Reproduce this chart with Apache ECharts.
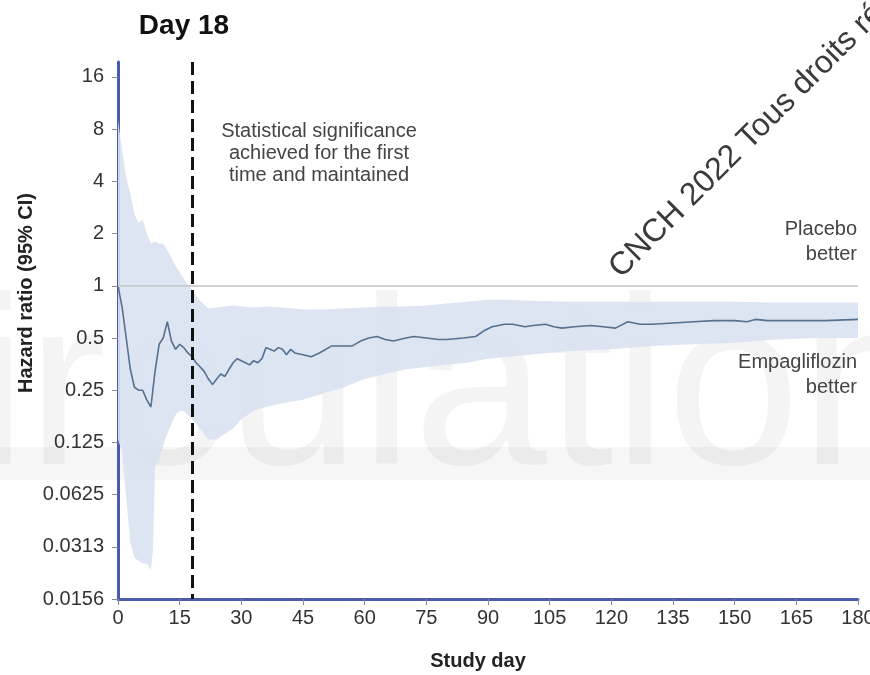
<!DOCTYPE html>
<html>
<head>
<meta charset="utf-8">
<script src="https://cdn.jsdelivr.net/npm/echarts@6/dist/echarts.min.js"></script>
<style>
  html, body { margin: 0; padding: 0; background: #ffffff; }
  #chart { width: 870px; height: 675px; }
</style>
</head>
<body>
<div id="chart"></div>
<script>
// Study day ticks (x axis)
const xTicks = [0, 15, 30, 45, 60, 75, 90, 105, 120, 135, 150, 165, 180];

// Hazard ratio ticks (log2 y axis) and their printed labels
const yTickValues = [0.015625, 0.03125, 0.0625, 0.125, 0.25, 0.5, 1, 2, 4, 8, 16];
const yTickLabels = ['0.0156', '0.0313', '0.0625', '0.125', '0.25', '0.5', '1', '2', '4', '8', '16'];

// Cumulative hazard ratio estimate by study day
const hrDays = [0, 1, 2, 3, 4, 5, 6, 7, 8, 9, 10, 11, 12, 13, 14, 15, 16, 17, 18, 19, 20, 21, 22, 23, 24, 25, 26, 27, 28, 29, 30, 31, 32, 33, 34, 35, 36, 37, 38, 39, 40, 41, 42, 43, 45, 47, 49, 52, 55, 57, 59, 61, 63, 65, 67, 70, 72, 75, 78, 80, 84, 87, 89, 91, 94, 96, 99, 101, 104, 106, 108, 111, 115, 118, 121, 124, 127, 130, 135, 140, 145, 150, 153, 155, 158, 165, 172, 180];
const hrValues = [1.0, 0.75, 0.5, 0.33, 0.26, 0.25, 0.25, 0.22, 0.2, 0.32, 0.46, 0.5, 0.62, 0.48, 0.43, 0.46, 0.44, 0.41, 0.39, 0.36, 0.34, 0.32, 0.29, 0.27, 0.29, 0.31, 0.3, 0.33, 0.36, 0.38, 0.37, 0.36, 0.35, 0.37, 0.36, 0.38, 0.44, 0.43, 0.42, 0.44, 0.43, 0.4, 0.43, 0.41, 0.4, 0.39, 0.41, 0.45, 0.45, 0.45, 0.48, 0.5, 0.51, 0.49, 0.48, 0.5, 0.51, 0.5, 0.49, 0.49, 0.5, 0.51, 0.55, 0.58, 0.6, 0.6, 0.58, 0.59, 0.6, 0.58, 0.57, 0.58, 0.59, 0.58, 0.57, 0.62, 0.6, 0.6, 0.61, 0.62, 0.63, 0.63, 0.62, 0.64, 0.63, 0.63, 0.63, 0.64];

// 95% confidence band
const bandDays = [0, 1, 2, 3, 4, 5, 6, 7, 8, 8.5, 9, 10, 11, 12, 13, 14, 15, 16, 17, 18, 19, 20, 22, 24, 26, 28, 30, 33, 36, 40, 45, 50, 55, 60, 65, 70, 75, 80, 85, 90, 95, 100, 110, 120, 130, 140, 150, 160, 170, 180];
const bandUpper = [9, 6, 4.2, 3.4, 2.6, 2.3, 2.4, 2.0, 1.75, 1.78, 1.8, 1.75, 1.75, 1.6, 1.45, 1.3, 1.2, 1.1, 1.02, 0.96, 0.88, 0.82, 0.74, 0.75, 0.76, 0.77, 0.76, 0.75, 0.76, 0.75, 0.73, 0.73, 0.74, 0.75, 0.76, 0.76, 0.77, 0.79, 0.81, 0.83, 0.83, 0.82, 0.81, 0.81, 0.81, 0.81, 0.81, 0.8, 0.8, 0.8];
const bandLower = [0.13, 0.11, 0.06, 0.033, 0.027, 0.026, 0.025, 0.025, 0.023, 0.03, 0.09, 0.1, 0.12, 0.14, 0.16, 0.18, 0.19, 0.19, 0.18, 0.17, 0.16, 0.15, 0.13, 0.13, 0.14, 0.15, 0.17, 0.19, 0.2, 0.21, 0.22, 0.24, 0.26, 0.29, 0.31, 0.33, 0.34, 0.35, 0.36, 0.38, 0.39, 0.4, 0.42, 0.43, 0.45, 0.46, 0.47, 0.49, 0.5, 0.5];

const significanceDay = 18;

const FONT = '"Liberation Sans", Arial, sans-serif';
const yMin = 0.015625;
const yMax = Math.pow(2, 4.287);

const hrSeries = hrDays.map((d, i) => [d, hrValues[i]]);

function yLabel(v) {
  let best = 0, bestDiff = Infinity;
  yTickValues.forEach((t, i) => {
    const diff = Math.abs(Math.log2(v) - Math.log2(t));
    if (diff < bestDiff) { bestDiff = diff; best = i; }
  });
  return bestDiff < 0.01 ? yTickLabels[best] : '';
}

const chart = echarts.init(document.getElementById('chart'), null, { renderer: 'canvas' });

chart.setOption({
  backgroundColor: '#ffffff',
  animation: false,
  grid: { left: 118, right: 12, top: 62, bottom: 76, containLabel: false, outerBoundsMode: 'none' },
  xAxis: {
    type: 'value',
    min: 0,
    max: 180,
    interval: 15,
    axisLine: { show: true, lineStyle: { color: '#4b5cae', width: 3 } },
    axisTick: { show: true, length: 6, lineStyle: { color: '#8a8a8a', width: 1 }, customValues: xTicks },
    axisLabel: { color: '#333', fontSize: 20, fontFamily: FONT, margin: 9, customValues: xTicks },
    splitLine: { show: false }
  },
  yAxis: {
    type: 'log',
    logBase: 2,
    min: yMin,
    max: yMax,
    axisLine: { show: true, lineStyle: { color: '#4b5cae', width: 3 } },
    axisTick: { show: true, length: 6, lineStyle: { color: '#8a8a8a', width: 1 }, customValues: yTickValues },
    axisLabel: { color: '#333', fontSize: 20, fontFamily: FONT, margin: 14, customValues: yTickValues, formatter: yLabel },
    splitLine: { show: false }
  },
  series: [
    {
      // confidence band polygon
      type: 'custom',
      z: 1,
      clip: true,
      data: [0],
      renderItem: function (params, api) {
        const pts = [];
        for (let i = 0; i < bandDays.length; i++) pts.push(api.coord([bandDays[i], bandUpper[i]]));
        for (let i = bandDays.length - 1; i >= 0; i--) pts.push(api.coord([bandDays[i], bandLower[i]]));
        return {
          type: 'polygon',
          shape: { points: pts },
          style: { fill: '#d8e2f0', opacity: 0.9 }
        };
      }
    },
    {
      type: 'line',
      z: 3,
      data: hrSeries,
      symbol: 'none',
      lineStyle: { color: '#56708f', width: 1.6 },
      markLine: {
        silent: true,
        symbol: ['none', 'none'],
        label: { show: false },
        data: [
          [{ coord: [0, 1], lineStyle: { color: '#c4c4c4', width: 1.5, type: 'solid' } }, { coord: [180, 1] }],
          [{ coord: [significanceDay, yMax], lineStyle: { color: '#111', width: 3, type: [13, 6] } }, { coord: [significanceDay, yMin] }]
        ]
      }
    }
  ],
  graphic: [
    {
      type: 'rect', z: -10, shape: { x: 0, y: 447, width: 870, height: 33 },
      style: { fill: 'rgba(0,0,0,0.035)' }
    },
    {
      type: 'text', z: -10, x: -200, y: 398,
      style: { text: 'Circulation', font: '240px ' + FONT, fill: 'rgba(0,0,0,0.045)', verticalAlign: 'middle' }
    },
    {
      type: 'text', x: 184, y: 26,
      style: { text: 'Day 18', font: 'bold 28px ' + FONT, fill: '#111', align: 'center', verticalAlign: 'middle' }
    },
    {
      type: 'text', x: 319, y: 153,
      style: { text: 'Statistical significance\nachieved for the first\ntime and maintained', font: '20px ' + FONT, fill: '#444', align: 'center', verticalAlign: 'middle', lineHeight: 22 }
    },
    {
      type: 'text', x: 857, y: 242,
      style: { text: 'Placebo\nbetter', font: '20px ' + FONT, fill: '#444', align: 'right', verticalAlign: 'middle', lineHeight: 25 }
    },
    {
      type: 'text', x: 857, y: 375,
      style: { text: 'Empagliflozin\nbetter', font: '20px ' + FONT, fill: '#444', align: 'right', verticalAlign: 'middle', lineHeight: 25 }
    },
    {
      type: 'text', x: 26, y: 293, rotation: Math.PI / 2,
      style: { text: 'Hazard ratio (95% CI)', font: 'bold 20px ' + FONT, fill: '#222', align: 'center', verticalAlign: 'middle' }
    },
    {
      type: 'text', x: 478, y: 661,
      style: { text: 'Study day', font: 'bold 20px ' + FONT, fill: '#222', align: 'center', verticalAlign: 'middle' }
    },
    {
      type: 'text', x: 626, y: 284, rotation: Math.PI / 4,
      style: { text: 'CNCH 2022 Tous droits réservés', font: '32px ' + FONT, fill: '#3a3a3a', align: 'left', verticalAlign: 'bottom' }
    }
  ]
});
</script>
</body>
</html>
